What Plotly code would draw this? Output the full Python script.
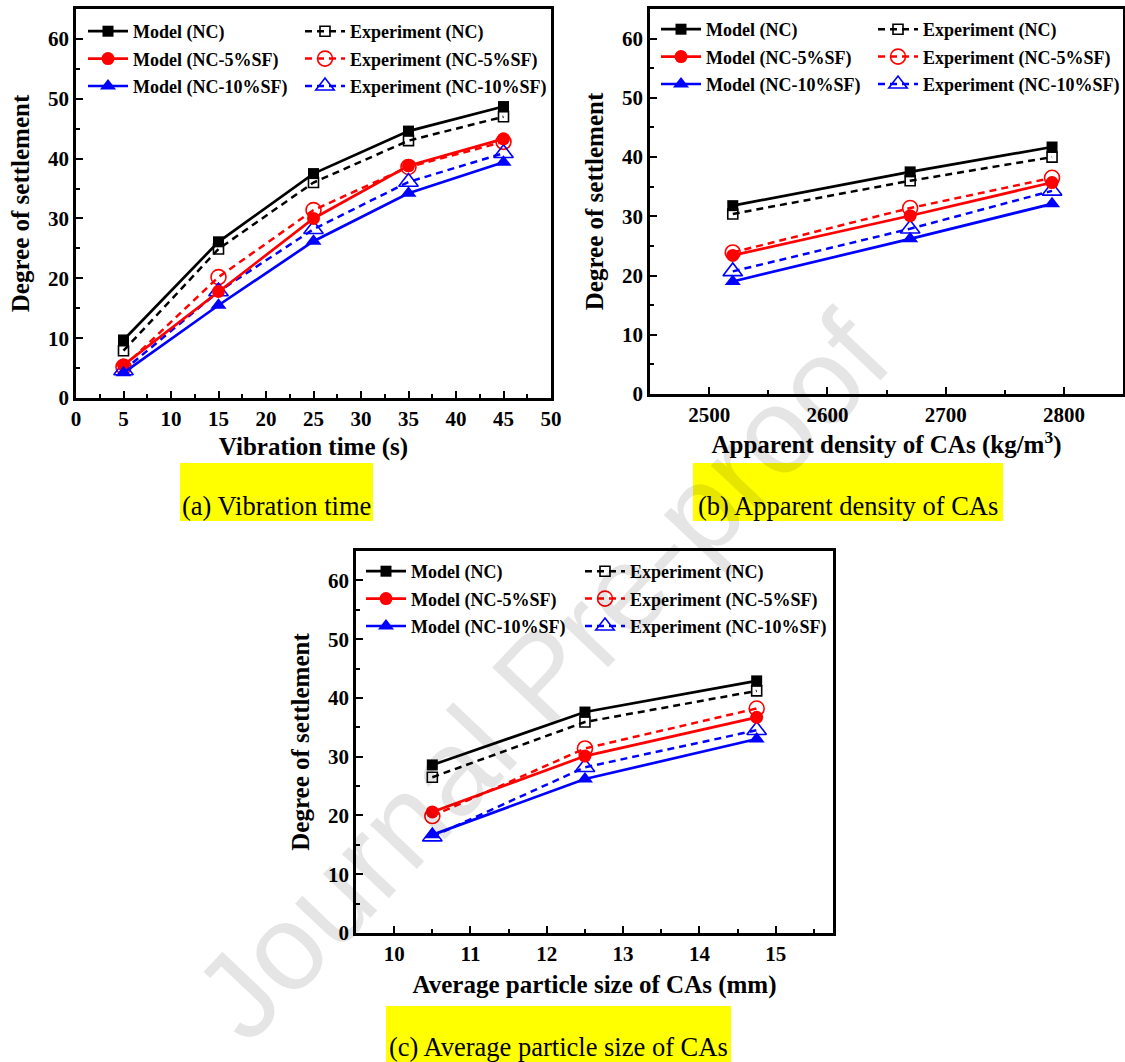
import plotly.graph_objects as go

# ---------------- data ----------------
vib_time = [5, 15, 25, 35, 45]
a_model_nc = [9.7, 26.1, 37.5, 44.6, 48.7]
a_exp_nc = [7.9, 24.9, 36.0, 43.0, 47.0]
a_model_5 = [5.5, 17.8, 30.0, 38.8, 43.3]
a_exp_5 = [5.2, 20.2, 31.4, 38.6, 42.8]
a_model_10 = [4.2, 15.5, 26.2, 34.2, 39.4]
a_exp_10 = [4.6, 17.8, 28.2, 36.1, 40.9]

density = [2520, 2670, 2790]
b_model_nc = [31.8, 37.5, 41.7]
b_exp_nc = [30.4, 36.0, 40.0]
b_model_5 = [23.4, 30.1, 35.7]
b_exp_5 = [23.9, 31.4, 36.5]
b_model_10 = [19.0, 26.2, 32.1]
b_exp_10 = [20.7, 27.9, 34.3]

particle = [10.5, 12.5, 14.75]
c_model_nc = [28.6, 37.6, 42.9]
c_exp_nc = [26.5, 35.9, 41.2]
c_model_5 = [20.6, 30.1, 36.7]
c_exp_5 = [19.9, 31.4, 38.2]
c_model_10 = [16.7, 26.2, 33.0]
c_exp_10 = [16.4, 28.2, 34.5]

model_names = ["Model (NC)", "Model (NC-5%SF)", "Model (NC-10%SF)"]
exp_names = ["Experiment (NC)", "Experiment (NC-5%SF)", "Experiment (NC-10%SF)"]
y_title = "Degree of settlement"
x_titles = ["Vibration time (s)", "Apparent density of CAs (kg/m<sup>3</sup>)",
            "Average particle size of CAs (mm)"]
captions = ["(a) Vibration time", "(b) Apparent density of CAs",
            "(c) Average particle size of CAs"]

# ---------------- style ----------------
W, H = 1125, 1062
FONT = "'Liberation Serif', 'Times New Roman', 'DejaVu Serif', serif"
colors = ["black", "#ff0000", "#0000ff"]
model_sym = ["square", "circle", "triangle-up"]
exp_sym = ["square-open", "circle-open", "triangle-up-open"]
model_size = [11, 13, 14]
exp_size = [10, 15, 17]


def px_x(p):
    return p / W


def px_y(p):
    return 1 - p / H


fig = go.Figure()

panels = [
    (vib_time, [a_model_nc, a_model_5, a_model_10], [a_exp_nc, a_exp_5, a_exp_10], "x", "y", "legend", "legend2"),
    (density, [b_model_nc, b_model_5, b_model_10], [b_exp_nc, b_exp_5, b_exp_10], "x2", "y2", "legend3", "legend4"),
    (particle, [c_model_nc, c_model_5, c_model_10], [c_exp_nc, c_exp_5, c_exp_10], "x3", "y3", "legend5", "legend6"),
]

for xs, models, exps, xa, ya, lg_m, lg_e in panels:
    for i in range(3):
        fig.add_trace(go.Scatter(
            x=xs, y=exps[i], xaxis=xa, yaxis=ya, name=exp_names[i], legend=lg_e,
            legendgroup=lg_e + str(i), mode="lines+markers",
            line=dict(color=colors[i], width=2.5, dash="7px,5px"),
            marker=dict(symbol=exp_sym[i], size=exp_size[i], color=colors[i],
                        line=dict(width=1.6, color=colors[i])),
        ))
    for i in range(3):
        fig.add_trace(go.Scatter(
            x=xs, y=models[i], xaxis=xa, yaxis=ya, name=model_names[i], legend=lg_m,
            legendgroup=lg_m + str(i), mode="lines+markers",
            line=dict(color=colors[i], width=2.7),
            marker=dict(symbol=model_sym[i], size=model_size[i], color=colors[i]),
        ))

tickfont = dict(family=FONT, size=21, color="black", weight="bold")
titlefont = dict(family=FONT, size=25, color="black", weight="bold")


def xaxis(domain, rng, dtick, minor, title, anchor, standoff):
    return dict(domain=domain, range=rng, dtick=dtick, tick0=0, anchor=anchor,
                showline=True, linecolor="black", linewidth=2.5, mirror=True,
                ticks="inside", ticklen=7, tickwidth=2, tickcolor="black",
                minor=dict(dtick=minor, ticks="inside", ticklen=4, tickwidth=2, tickcolor="black"),
                showgrid=False, zeroline=False, tickfont=tickfont, automargin=False,
                title=dict(text=title, font=titlefont, standoff=standoff))


def yaxis(domain, anchor):
    return dict(domain=domain, range=[0, 65], dtick=10, tick0=0, anchor=anchor,
                showline=True, linecolor="black", linewidth=2.5, mirror=True,
                ticks="inside", ticklen=7, tickwidth=2, tickcolor="black",
                minor=dict(dtick=5, ticks="inside", ticklen=4, tickwidth=2, tickcolor="black"),
                showgrid=False, zeroline=False, tickfont=tickfont, automargin=False,
                title=dict(text=y_title, font=titlefont, standoff=12))


dom_a_x = [px_x(76), px_x(551)]
dom_a_y = [px_y(398), px_y(9)]
dom_b_x = [px_x(650), px_x(1123)]
dom_b_y = [px_y(394), px_y(9)]
dom_c_x = [px_x(356), px_x(833)]
dom_c_y = [px_y(933), px_y(551)]

legfont = dict(family=FONT, size=18, color="black", weight="bold")


def legend(xp, yp):
    return dict(x=px_x(xp), y=px_y(yp), xanchor="left", yanchor="top",
                bgcolor="rgba(0,0,0,0)", borderwidth=0, font=legfont,
                traceorder="grouped", tracegroupgap=1, itemwidth=40)


fig.update_layout(
    width=W, height=H, autosize=False,
    margin=dict(l=0, r=0, t=0, b=0),
    paper_bgcolor="white", plot_bgcolor="white",
    font=dict(family=FONT),
    showlegend=True,
    xaxis=xaxis(dom_a_x, [0, 50], 5, 2.5, x_titles[0], "y", 8),
    yaxis=yaxis(dom_a_y, "x"),
    xaxis2=xaxis(dom_b_x, [2450, 2850], 100, 50, x_titles[1], "y2", 8),
    yaxis2=yaxis(dom_b_y, "x2"),
    xaxis3=xaxis(dom_c_x, [9.5, 15.75], 1, 0.5, x_titles[2], "y3", 11),
    yaxis3=yaxis(dom_c_y, "x3"),
    legend=legend(83, 13),
    legend2=legend(300, 13),
    legend3=legend(656, 11),
    legend4=legend(873, 11),
    legend5=legend(361, 553),
    legend6=legend(580, 553),
)

# captions: yellow highlight boxes + text
cap_boxes = [(180, 373, 463, 521, 506), (693, 1003, 463, 521, 506), (386, 731, 1006, 1062, 1047)]
for (x0, x1, y0, y1, ty), txt in zip(cap_boxes, captions):
    fig.add_shape(type="rect", xref="paper", yref="paper",
                  x0=px_x(x0), x1=px_x(x1), y0=px_y(y1), y1=px_y(y0),
                  fillcolor="#ffff00", line=dict(width=0), layer="below")
    fig.add_annotation(xref="paper", yref="paper", x=px_x((x0 + x1) / 2), y=px_y(ty),
                       text=txt, showarrow=False, xanchor="center", yanchor="middle",
                       font=dict(family=FONT, size=26.5, color="black"))

# watermark
fig.add_annotation(xref="paper", yref="paper", x=px_x(542), y=px_y(676),
                   text="Journal Pre-proof", showarrow=False, textangle=-46.5,
                   xanchor="center", yanchor="middle",
                   font=dict(family="'Liberation Sans', Arial, sans-serif", size=122,
                             color="rgba(0,0,0,0.10)"))

fig.write_html("out.html", config={"displayModeBar": False},
               post_script="document.body.style.margin='0';document.body.style.overflow='hidden';")
